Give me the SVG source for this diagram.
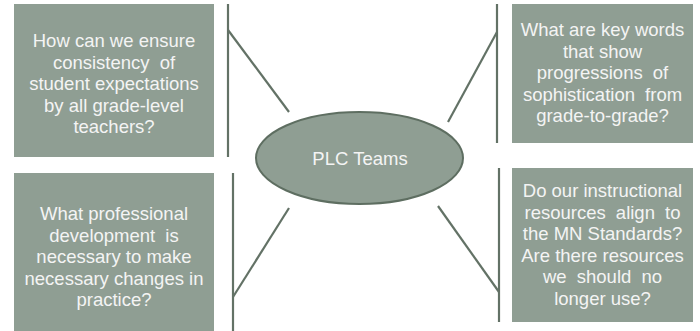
<svg xmlns="http://www.w3.org/2000/svg" width="700" height="331" viewBox="0 0 700 331">
<style>
.box{fill:#8f9e93;}
.t{font-family:"Liberation Sans",Arial,sans-serif;font-size:18.5px;fill:#f4f4f4;text-anchor:middle;}
.w{word-spacing:5px;}
.ln{stroke:#637266;stroke-width:2.2;fill:none;}
</style>
<rect width="700" height="331" fill="#ffffff"/>
<g id="connectors">
<line class="ln" x1="228" y1="4" x2="228" y2="157"/>
<line class="ln" x1="228" y1="30" x2="289" y2="112"/>
<line class="ln" x1="497" y1="4" x2="497" y2="143"/>
<line class="ln" x1="497" y1="32" x2="448" y2="122"/>
<line class="ln" x1="233" y1="173" x2="233" y2="331"/>
<line class="ln" x1="233" y1="297" x2="289" y2="208"/>
<line class="ln" x1="499" y1="168" x2="499" y2="322"/>
<line class="ln" x1="499" y1="292" x2="438" y2="206"/>
</g>
<g id="center">
<ellipse cx="359.5" cy="158" rx="103.5" ry="46" fill="#8f9e93" stroke="#5e6e61" stroke-width="2"/>
<text class="t" x="360" y="165">PLC Teams</text>
</g>
<g id="box1">
<rect class="box" x="14" y="4" width="200" height="153"/>
<text class="t"><tspan x="114" y="47">How can we ensure</tspan><tspan class="w" x="114" y="68.5">consistency of</tspan><tspan x="114" y="90">student expectations</tspan><tspan x="114" y="111.5">by all grade-level</tspan><tspan x="114" y="133">teachers?</tspan></text>
</g>
<g id="box2">
<rect class="box" x="512" y="4" width="181" height="139"/>
<text class="t"><tspan x="602.5" y="36">What are key words</tspan><tspan x="602.5" y="57.5">that show</tspan><tspan class="w" x="602.5" y="79">progressions of</tspan><tspan class="w" x="602.5" y="100.5">sophistication from</tspan><tspan x="602.5" y="122">grade-to-grade?</tspan></text>
</g>
<g id="box3">
<rect class="box" x="14" y="173" width="200" height="160"/>
<text class="t"><tspan x="114" y="220">What professional</tspan><tspan class="w" x="114" y="241.5">development is</tspan><tspan x="114" y="263">necessary to make</tspan><tspan x="114" y="284.5">necessary changes in</tspan><tspan x="114" y="306">practice?</tspan></text>
</g>
<g id="box4">
<rect class="box" x="512" y="168" width="181" height="154"/>
<text class="t"><tspan x="602.5" y="197">Do our instructional</tspan><tspan class="w" x="602.5" y="218.5">resources align to</tspan><tspan x="602.5" y="240">the MN Standards?</tspan><tspan x="602.5" y="261.5">Are there resources</tspan><tspan class="w" x="602.5" y="283">we should no</tspan><tspan x="602.5" y="304.5">longer use?</tspan></text>
</g>
</svg>
